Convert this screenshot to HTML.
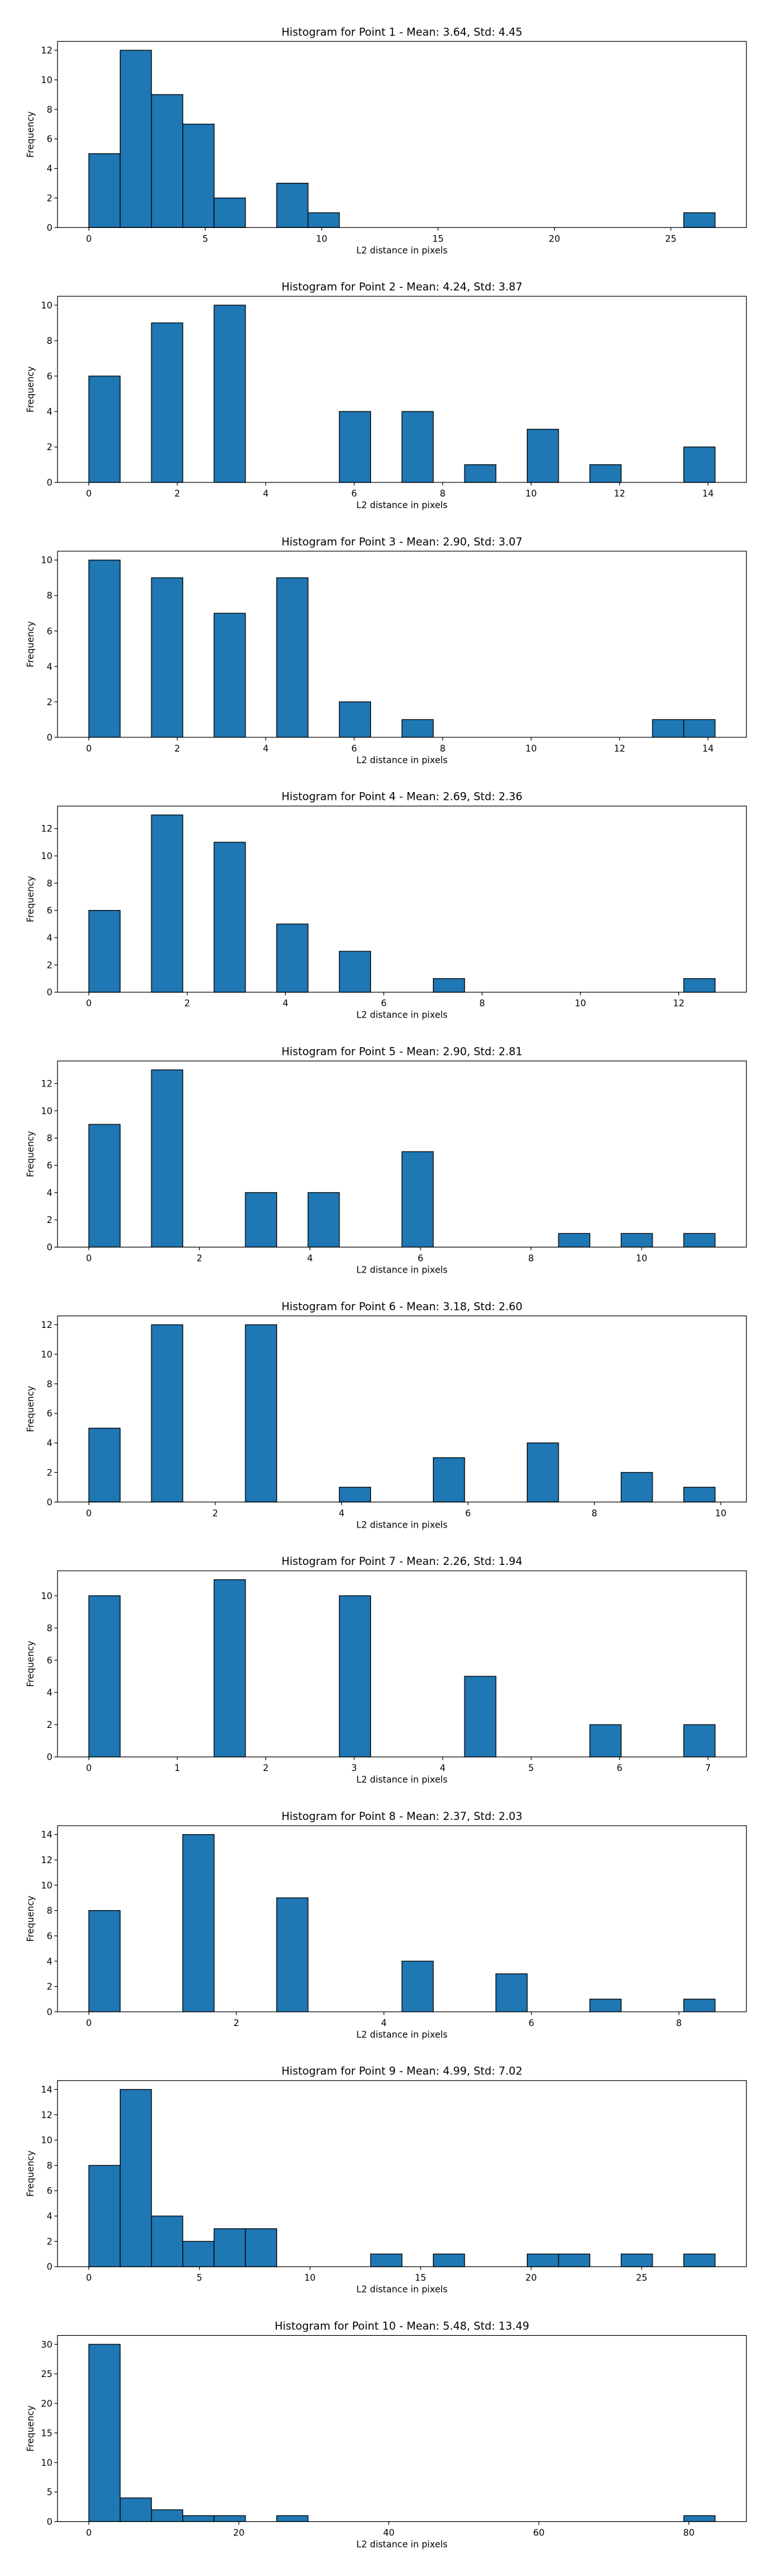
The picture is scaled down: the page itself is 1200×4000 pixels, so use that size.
<!DOCTYPE html>
<html><head><meta charset="utf-8"><title>Histograms</title>
<style>
html,body{margin:0;padding:0;background:#fff;}
svg{display:block;font-family:"DejaVu Sans","Liberation Sans",sans-serif;}
</style></head>
<body>
<svg id="fig" width="1200" height="4000" viewBox="0 0 1200 4000" xmlns="http://www.w3.org/2000/svg"></svg>
<script>
// Data: per-chart titles, max data value, bin counts (20 bins), tick steps
const titles = [
  "Histogram for Point 1 - Mean: 3.64, Std: 4.45",
  "Histogram for Point 2 - Mean: 4.24, Std: 3.87",
  "Histogram for Point 3 - Mean: 2.90, Std: 3.07",
  "Histogram for Point 4 - Mean: 2.69, Std: 2.36",
  "Histogram for Point 5 - Mean: 2.90, Std: 2.81",
  "Histogram for Point 6 - Mean: 3.18, Std: 2.60",
  "Histogram for Point 7 - Mean: 2.26, Std: 1.94",
  "Histogram for Point 8 - Mean: 2.37, Std: 2.03",
  "Histogram for Point 9 - Mean: 4.99, Std: 7.02",
  "Histogram for Point 10 - Mean: 5.48, Std: 13.49"
];
const dataMax = [26.9, 14.16, 14.16, 12.74, 11.33, 9.91, 7.08, 8.49, 28.32, 83.5];
const counts1 = [5,12,9,7,2,0,3,1,0,0,0,0,0,0,0,0,0,0,0,1];
const counts2 = [6,0,9,0,10,0,0,0,4,0,4,0,1,0,3,0,1,0,0,2];
const counts3 = [10,0,9,0,7,0,9,0,2,0,1,0,0,0,0,0,0,0,1,1];
const counts4 = [6,0,13,0,11,0,5,0,3,0,0,1,0,0,0,0,0,0,0,1];
const counts5 = [9,0,13,0,0,4,0,4,0,0,7,0,0,0,0,1,0,1,0,1];
const counts6 = [5,0,12,0,0,12,0,0,1,0,0,3,0,0,4,0,0,2,0,1];
const counts7 = [10,0,0,0,11,0,0,0,10,0,0,0,5,0,0,0,2,0,0,2];
const counts8 = [8,0,0,14,0,0,9,0,0,0,4,0,0,3,0,0,1,0,0,1];
const counts9 = [8,14,4,2,3,3,0,0,0,1,0,1,0,0,1,1,0,1,0,1];
const counts10 = [30,4,2,1,1,0,1,0,0,0,0,0,0,0,0,0,0,0,0,1];
const allCounts = [counts1,counts2,counts3,counts4,counts5,counts6,counts7,counts8,counts9,counts10];
const xTickStep = [5, 2, 2, 2, 2, 2, 1, 2, 5, 20];
const yTickStep = [2, 2, 2, 2, 2, 2, 2, 2, 2, 5];

const NS = "http://www.w3.org/2000/svg";
const svg = document.getElementById("fig");
function mk(tag, attrs, parent){
  const e = document.createElementNS(NS, tag);
  for (const k in attrs) e.setAttribute(k, attrs[k]);
  (parent||svg).appendChild(e);
  return e;
}
const AX_L = 89.3, AX_R = 1158.7, AX_H = 289, TOP0 = 64.3, PERIOD = 395.8;
const fmt = v => (Math.round(v*1000)/1000).toString();

for (let c = 0; c < 10; c++) {
  const counts = allCounts[c];
  const top = TOP0 + c*PERIOD, bot = top + AX_H;
  const dmax = dataMax[c], nb = counts.length, bw = dmax/nb;
  const xmin = -0.05*dmax, xmax = dmax*1.05;
  const cmax = Math.max(...counts);
  const ymax = cmax*1.05;
  const X = v => AX_L + (v - xmin)/(xmax - xmin)*(AX_R - AX_L);
  const Y = v => bot - v/ymax*AX_H;

  const g = mk("g", {});
  
  

  const t = mk("text", {x: (AX_L+AX_R)/2, y: top - 9, "text-anchor":"middle", "font-size":"16.7"}, g);
  t.textContent = titles[c];
  
  

  // bars
  for (let i = 0; i < nb; i++) {
    const v = counts[i];
    const x0 = X(i*bw), x1 = X((i+1)*bw);
    const r = mk("rect", {x: x0, y: Y(v), width: x1-x0, height: bot - Y(v), fill:"#1f77b4", stroke:"#000", "stroke-width":"1.2"}, g);
    
    
  }

  // frame
  const fr = mk("rect", {x: AX_L, y: top, width: AX_R-AX_L, height: AX_H, fill:"none", stroke:"#000", "stroke-width":"1.1"}, g);
  
  

  // x ticks
  const xs = xTickStep[c];
  for (let v = 0; v <= xmax + 1e-9; v += xs) {
    const px = X(v);
    mk("line", {x1:px, x2:px, y1:bot, y2:bot+4.9, stroke:"#000", "stroke-width":"1.1"}, g);
    const tl = mk("text", {x:px, y:bot+22, "text-anchor":"middle", "font-size":"13.9"}, g);
    tl.textContent = fmt(v);
    
    
  }
  // y ticks
  const ys = yTickStep[c];
  for (let v = 0; v <= ymax + 1e-9; v += ys) {
    const py = Y(v);
    mk("line", {x1:AX_L-4.9, x2:AX_L, y1:py, y2:py, stroke:"#000", "stroke-width":"1.1"}, g);
    const tl = mk("text", {x:AX_L-8, y:py+5, "text-anchor":"end", "font-size":"13.9"}, g);
    tl.textContent = fmt(v);
    
    
  }
  const xl = mk("text", {x:(AX_L+AX_R)/2, y:bot+40, "text-anchor":"middle", "font-size":"13.9"}, g);
  xl.textContent = "L2 distance in pixels";
  
  
  const cy = (top+bot)/2;
  const yl = mk("text", {x:52, y:cy, "text-anchor":"middle", "font-size":"13.9", transform:"rotate(-90 52 "+cy+")"}, g);
  yl.textContent = "Frequency";
  
  
}
</script>
</body></html>
